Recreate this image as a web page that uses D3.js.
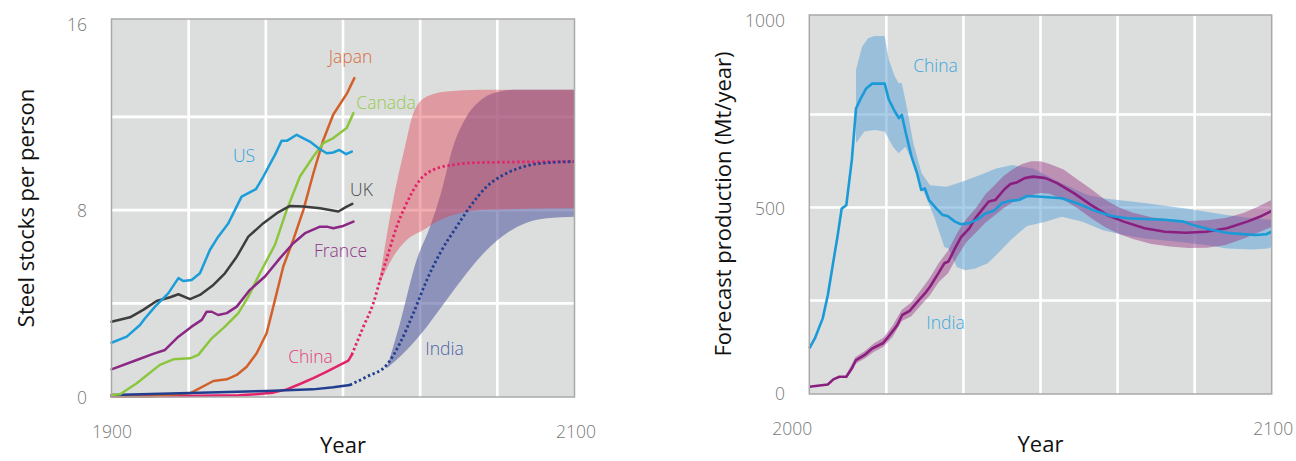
<!DOCTYPE html>
<html><head><meta charset="utf-8">
<script src="https://cdn.jsdelivr.net/npm/d3@7"></script>
<style>body{margin:0;background:#fff}svg{display:block}</style>
</head><body><svg id="c" width="1296" height="461"></svg>
<script>
// ---------------- LEFT PANEL DATA (steel stocks per person, t) ----------------
const leftXTicks = [1900, 2100];
const leftYTicks = [0, 8, 16];
const leftYGrid = [4, 8, 12];

const usYears = [1900,1906.6,1912.3,1914.5,1918.8,1924.5,1928.9,1931,1934.6,1938.2,1942.5,1946.1,1950.5,1956.2,1962.4,1965.6,1970.6,1973.5,1975.9,1980,1985.7,1989.3,1993,1995.8,1998.4,2001.3,2003.8];
const usValues = [2.31,2.57,3.07,3.36,3.86,4.43,5.08,4.96,5.0,5.29,6.29,6.86,7.44,8.58,8.9,9.44,10.37,10.98,10.98,11.23,10.94,10.66,10.44,10.47,10.58,10.4,10.51];

const ukYears = [1900,1908,1913.7,1919.5,1925.3,1928.9,1933.9,1938.2,1944,1949,1954.1,1959.1,1965.6,1971.4,1977.1,1982.9,1990.1,1998,2001.6,2004];
const ukValues = [3.21,3.40,3.72,4.10,4.26,4.39,4.18,4.36,4.79,5.29,6.0,6.86,7.44,7.87,8.18,8.15,8.08,7.94,8.15,8.27];

const franceYears = [1900,1910.9,1918,1923.1,1928.9,1934.6,1939,1941.1,1943.3,1946.1,1949.8,1954.1,1959.8,1966.3,1972.8,1978.5,1983.6,1990.1,1993,1995.8,2000.1,2004.5];
const franceValues = [1.17,1.57,1.83,2.0,2.57,3.0,3.29,3.64,3.64,3.5,3.58,3.86,4.58,5.15,5.94,6.58,7.01,7.29,7.29,7.22,7.32,7.51];

const canadaYears = [1900,1903.7,1910.9,1920.9,1926.7,1933.9,1937.5,1943.3,1949,1954.8,1959.1,1964.1,1970.6,1975.7,1981.4,1987.2,1991.5,1995.8,2001.6,2004.5];
const canadaValues = [0.07,0.1,0.57,1.36,1.6,1.64,1.79,2.5,3.0,3.58,4.29,5.29,6.51,8.01,9.44,10.3,10.87,11.09,11.52,12.16];

const japanYears = [1900,1916.6,1933.9,1944,1949.8,1954.1,1958.4,1962.7,1967,1969.9,1974.2,1978.5,1982.9,1987.2,1991.5,1995.8,2001.8,2004.9];
const japanValues = [0,0,0.14,0.67,0.74,0.93,1.28,1.86,2.72,3.86,5.58,6.72,8.01,9.58,11.01,12.1,13.02,13.66];

const chinaHistYears = [1900,1930,1955,1962,1969.9,1975.7,1981.4,1987.2,1993,1998.7,2002.3,2003.8];
const chinaHistValues = [0.02,0.03,0.06,0.1,0.17,0.31,0.54,0.79,1.07,1.36,1.54,1.79];

const indiaHistYears = [1900,1938,1967,1987,1995.8,2003];
const indiaHistValues = [0.07,0.17,0.24,0.31,0.40,0.50];

const chinaProjYears = [2003.8,2008.8,2013.1,2016,2019.6,2023.2,2026.8,2029.7,2033.3,2039,2047.6,2059.2,2100];
const chinaProjValues = [1.79,3.0,4.0,5.0,6.15,7.29,8.15,8.73,9.30,9.73,9.94,10.04,10.08];

const chinaBandUpperYears = [2015.3,2021.7,2026.8,2030.4,2036.2,2044.8,2059.2,2100];
const chinaBandUpper = [4.72,8.44,10.73,12.16,12.87,13.09,13.16,13.16];
const chinaBandLowerYears = [2015.3,2021.7,2027.5,2034.7,2041.9,2050.5,2062.1,2100];
const chinaBandLower = [4.72,6.0,6.72,7.15,7.58,7.87,8.01,8.08];

const indiaProjYears = [2003,2010.2,2018.9,2024.6,2030.4,2036.2,2041.9,2049.1,2054.9,2062.1,2070.7,2079.3,2089.4,2100];
const indiaProjValues = [0.50,0.85,1.36,2.29,3.58,5.0,6.15,7.29,8.15,9.01,9.58,9.9,10.04,10.08];

const indiaBandUpperYears = [2018.9,2024.6,2031.8,2037.6,2041.9,2047.6,2053.4,2060.6,2067.8,2075,2100];
const indiaBandUpper = [1.21,3.15,5.86,7.29,8.58,10.73,12.01,12.8,13.09,13.16,13.16];
const indiaBandLowerYears = [2018.9,2027.5,2036.2,2044.8,2053.4,2062.1,2070.7,2079.3,2088,2100];
const indiaBandLower = [1.21,2.0,3.0,4.15,5.29,6.29,7.01,7.46,7.65,7.72];

// ---------------- RIGHT PANEL DATA (forecast production, Mt/year) ----------------
const rightXTicks = [2000, 2100];
const rightYTicks = [0, 500, 1000];
const rightYGrid = [250, 500, 750];

const chinaProdYears = [2000,2001.2,2002.9,2004,2005.2,2006.1,2007,2008,2009.2,2010.1,2011,2012.3,2013.6,2016.3,2017.2,2018.5,2019.4,2020,2020.9,2022.1,2023.3,2024.2,2025,2025.9,2027.5,2028.8,2029.9,2031.5,2032.8,2034.6,2036.4,2038.1,2039.9,2041.7,2043.5,2045.3,2047.1,2050.2,2054.6,2058.2,2061.8,2065.3,2068.9,2072.5,2076.9,2080.9,2083.2,2086.7,2090.3,2093,2096.5,2098.8,2100];
const chinaProdValues = [121,148,202,264,355,422,497,506,628,766,790,820,833,833,790,758,740,749,699,637,592,547,551,520,497,480,477,462,455,458,468,484,491,512,518,520,531,529,525,510,491,477,471,469,467,462,452,441,432,429,426,428,435];

const chinaProdUpperYears = [2010.1,2011.4,2012.7,2014.1,2016.3,2017.2,2018.5,2019.3,2020,2021.2,2022.5,2024.3,2026.1,2029.7,2033.2,2036.8,2040.4,2043.9,2048.4,2054.6,2060,2063.5,2072.5,2081.4,2090.3,2095.6,2100];
const chinaProdUpper = [870,932,955,961,961,897,852,835,835,762,673,592,560,556,570,587,605,614,605,565,534,525,512,497,480,471,467];
const chinaProdLowerYears = [2010.1,2011.9,2014.1,2016.3,2018.1,2019.3,2020.8,2022.5,2024.3,2027,2029.2,2030.1,2031.9,2033.7,2035.9,2038.6,2040.8,2043.9,2047.1,2051.1,2054.6,2059.1,2063.5,2068,2072.5,2079.6,2085.8,2090.3,2095.6,2099.2,2100];
const chinaProdLower = [673,704,708,704,663,646,663,619,556,475,394,390,340,331,336,350,377,417,450,462,475,462,439,426,417,408,399,390,387,390,394];

const indiaProdYears = [2000,2004,2005.2,2006.5,2008,2009.2,2010.1,2011.9,2013.6,2015.9,2016.8,2019,2020.1,2021.7,2023.4,2025,2026.1,2027.9,2029.2,2030.1,2031.5,2032.8,2034.6,2035.9,2037.3,2038.8,2040.2,2042.2,2043.5,2044.8,2046.6,2048.4,2051.1,2053.7,2057.3,2060.9,2064.4,2068,2072.5,2076.9,2081.4,2085.8,2090.3,2094.7,2097.4,2100];
const indiaProdValues = [18,24,38,45,45,67,90,103,121,135,148,183,211,222,247,269,287,323,350,355,390,420,444,471,493,516,520,549,563,567,579,583,579,565,538,507,480,462,444,435,432,435,444,462,475,491];

const indiaProdBandYears = [2008,2010,2012,2014,2016,2018,2020,2022,2024,2026,2028,2030,2032,2034,2036,2038,2040,2042,2044,2046,2048,2050,2052,2055,2058,2061,2064,2067,2070,2074,2078,2082,2086,2090,2094,2097,2100];
const indiaProdUpper = [52,98,114,135,150,182,225,244,276,310,351,384,432,470,498,534,559,585,603,617,624,624,617,602,575,549,521,500,486,474,468,464,466,472,486,502,521];
const indiaProdLower = [38,80,94,112,125,152,195,207,235,263,300,323,368,407,432,458,478,498,514,524,533,539,537,521,498,471,447,429,415,402,395,391,392,399,417,432,448];

// ---------------- DRAWING ----------------
const FONT = "'Open Sans', 'Noto Sans', 'DejaVu Sans', sans-serif";
const BG = "#dcdedd";
const svg = d3.select("#c");
svg.append("rect").attr("width",1296).attr("height",461).attr("fill","#fff");

const zip = (xs, ys) => xs.map((x,i)=>[x, ys[i]]);

function panel(cfg){
  const {x, y, frame, xGrid, yGrid} = cfg;
  const g = svg.append("g");
  g.append("rect").attr("x",frame[0]).attr("y",frame[1])
    .attr("width",frame[2]-frame[0]).attr("height",frame[3]-frame[1]).attr("fill",BG);
  g.selectAll(".vg").data(xGrid).enter().append("line")
    .attr("x1",d=>x(d)).attr("x2",d=>x(d)).attr("y1",frame[1]).attr("y2",frame[3])
    .attr("stroke","#fff").attr("stroke-width",2.6);
  g.selectAll(".hg").data(yGrid).enter().append("line")
    .attr("y1",d=>y(d)).attr("y2",d=>y(d)).attr("x1",frame[0]).attr("x2",frame[2])
    .attr("stroke","#fff").attr("stroke-width",2.6);
  return g;
}
function border(frame){
  svg.append("rect").attr("x",frame[0]).attr("y",frame[1])
    .attr("width",frame[2]-frame[0]).attr("height",frame[3]-frame[1])
    .attr("fill","none").attr("stroke","#a9a9a9").attr("stroke-width",1.5);
}
function bandPath(line, upper, lower){
  const u = line(upper);
  const l = line(lower.slice().reverse());
  return u + "L" + l.slice(1) + "Z";
}
function label(txt, x, y, color, size, anchor){
  svg.append("text").attr("x",x).attr("y",y).text(txt)
    .attr("fill",color).attr("font-family",FONT).attr("font-weight",300)
    .attr("font-size",size||17).attr("text-anchor",anchor||"middle")
    .attr("dominant-baseline","central");
}

// ---- Left panel ----
const xL = d3.scaleLinear().domain([1900,2100]).range([111.5,574.5]);
const yL = d3.scaleLinear().domain([0,16]).range([396.6,23.6]);
const frameL = [111.5,19,574.5,397];
const gL = panel({x:xL, y:yL, frame:frameL,
  xGrid: d3.range(1,6).map(i=>1900+i*200/6), yGrid: leftYGrid});

const lineSmoothL = d3.line().x(d=>xL(d[0])).y(d=>yL(d[1])).curve(d3.curveMonotoneX);
const lineLinL = d3.line().x(d=>xL(d[0])).y(d=>yL(d[1]));

gL.append("path")
  .attr("d", bandPath(lineSmoothL, zip(indiaBandUpperYears,indiaBandUpper), zip(indiaBandLowerYears,indiaBandLower)))
  .attr("fill","rgb(88,95,163)").attr("fill-opacity",0.6);
gL.append("path")
  .attr("d", bandPath(lineSmoothL, zip(chinaBandUpperYears,chinaBandUpper), zip(chinaBandLowerYears,chinaBandLower)))
  .attr("fill","rgb(225,64,79)").attr("fill-opacity",0.43);

const histSeries = [
  {y:chinaHistYears, v:chinaHistValues, c:"#e3236a"},
  {y:japanYears, v:japanValues, c:"#d2602a"},
  {y:indiaHistYears, v:indiaHistValues, c:"#223e8f"},
  {y:canadaYears, v:canadaValues, c:"#8cc63f"},
  {y:franceYears, v:franceValues, c:"#8b2784"},
  {y:ukYears, v:ukValues, c:"#3d3d3d"},
  {y:usYears, v:usValues, c:"#1b9dd9"}
];
histSeries.forEach(s=>{
  gL.append("path").attr("d", lineLinL(zip(s.y,s.v)))
    .attr("fill","none").attr("stroke",s.c).attr("stroke-width",2.5)
    .attr("stroke-linejoin","round").attr("stroke-linecap","round");
});
gL.append("path").attr("d", lineSmoothL(zip(chinaProjYears,chinaProjValues)))
  .attr("fill","none").attr("stroke","#e3236a").attr("stroke-width",2.8)
  .attr("stroke-dasharray","2.4,2.6");
gL.append("path").attr("d", lineSmoothL(zip(indiaProjYears,indiaProjValues)))
  .attr("fill","none").attr("stroke","#223e8f").attr("stroke-width",2.8)
  .attr("stroke-dasharray","2.4,2.6");
border(frameL);

leftYTicks.forEach(t=>label(String(t), 87, yL(t), "#777", 17.5, "end"));
leftXTicks.forEach(t=>label(String(t), xL(t)+(t===2100?1.5:0.5), 431, "#777", 17.5, "middle"));

label("Japan", 350.5, 55.5, "#d76b3a", 17.5);
label("Canada", 386, 101.5, "#96c94b", 17.5);
label("US", 244, 155, "#2aa2dc", 17.5);
label("UK", 361.5, 189, "#4a4a4a", 17.5);
label("France", 340.5, 250, "#8e3489", 17.5);
label("China", 310.5, 356, "#e2407a", 17.5);
label("India", 444.5, 347.5, "#4a5fa6", 17.5);

svg.append("text").text("Steel stocks per person")
  .attr("transform","translate(25,208) rotate(-90)")
  .attr("text-anchor","middle").attr("dominant-baseline","central")
  .attr("font-family",FONT).attr("font-size",22).attr("fill","#111");
svg.append("text").text("Year").attr("x",343).attr("y",453)
  .attr("text-anchor","middle").attr("font-family",FONT).attr("font-size",22).attr("fill","#111");

// ---- Right panel ----
const xR = d3.scaleLinear().domain([2000,2100]).range([809.3,1271.7]);
const yR = d3.scaleLinear().domain([0,1000]).range([393.5,21.5]);
const frameR = [809.3,15,1271.7,394];
const gR = panel({x:xR, y:yR, frame:frameR,
  xGrid: d3.range(1,6).map(i=>2000+i*100/6), yGrid: rightYGrid});
const lineR = d3.line().x(d=>xR(d[0])).y(d=>yR(d[1]));

gR.append("path")
  .attr("d", bandPath(lineR, zip(chinaProdUpperYears,chinaProdUpper), zip(chinaProdLowerYears,chinaProdLower)))
  .attr("fill","rgb(100,165,215)").attr("fill-opacity",0.55);
gR.append("path")
  .attr("d", bandPath(lineR, zip(indiaProdBandYears,indiaProdUpper), zip(indiaProdBandYears,indiaProdLower)))
  .attr("fill","rgb(150,50,130)").attr("fill-opacity",0.45);
gR.append("path").attr("d", lineR(zip(indiaProdYears,indiaProdValues)))
  .attr("fill","none").attr("stroke","#8b1f80").attr("stroke-width",2.6).attr("stroke-linejoin","round");
gR.append("path").attr("d", lineR(zip(chinaProdYears,chinaProdValues)))
  .attr("fill","none").attr("stroke","#1a9ad6").attr("stroke-width",2.6).attr("stroke-linejoin","round");
border(frameR);

rightYTicks.forEach(t=>label(String(t), 785, yR(t) + (t===1000?-1.5:(t===0?-1:0.5)), "#777", 17.5, "end"));
rightXTicks.forEach(t=>label(String(t), t===2000 ? xR(t)-17 : xR(t)+1.5, 427.5, "#777", 17.5, "middle"));

label("China", 935.5, 65, "#3aa6dc", 17.5);
label("India", 945.5, 322, "#3aa6dc", 17.5);

svg.append("text").text("Forecast production (Mt/year)")
  .attr("transform","translate(722,204) rotate(-90)")
  .attr("text-anchor","middle").attr("dominant-baseline","central")
  .attr("font-family",FONT).attr("font-size",22).attr("fill","#111");
svg.append("text").text("Year").attr("x",1040.5).attr("y",452)
  .attr("text-anchor","middle").attr("font-family",FONT).attr("font-size",22).attr("fill","#111");
</script>
</body></html>
